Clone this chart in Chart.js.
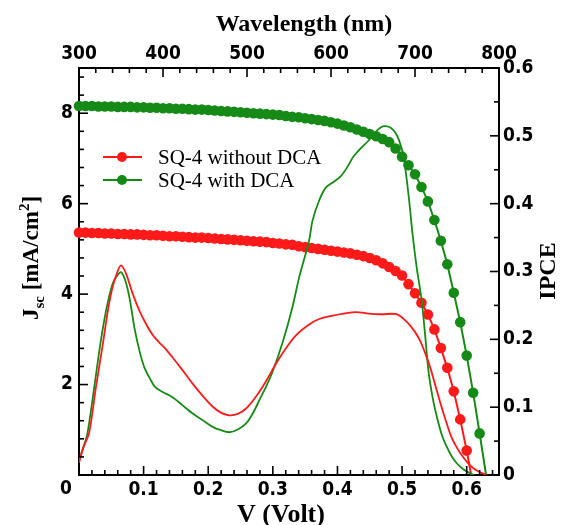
<!DOCTYPE html>
<html lang="en">
  <head>
    <meta charset="UTF-8" />
    <title>SQ-4 J-V and IPCE</title>
    <style>
      body { margin: 0; background: #fff; }
      canvas { display: block; }
    </style>
  </head>
  <body>
    <canvas id="jvChart" width="561" height="525"></canvas>
    <script src="https://cdn.jsdelivr.net/npm/chart.js"></script>
    <script>
      // J-V data (V in volts, Jsc in mA/cm2)
      const voltsNoDca = [
        0, 0.01, 0.02, 0.03, 0.04, 0.05, 0.06, 0.07, 0.08, 0.09,
        0.1, 0.11, 0.12, 0.13, 0.14, 0.15, 0.16, 0.17, 0.18, 0.19,
        0.2, 0.21, 0.22, 0.23, 0.24, 0.25, 0.26, 0.27, 0.28, 0.29,
        0.3, 0.31, 0.32, 0.33, 0.34, 0.35, 0.36, 0.37, 0.38, 0.39,
        0.4, 0.41, 0.42, 0.43, 0.44, 0.45, 0.46, 0.47, 0.48, 0.49,
        0.5, 0.51, 0.52, 0.53, 0.54, 0.55, 0.56, 0.57, 0.58, 0.59,
        0.6, 0.607
      ];
      const jscNoDca = [
        5.36, 5.36, 5.35, 5.35, 5.34, 5.34, 5.33, 5.33, 5.32, 5.32,
        5.31, 5.30, 5.30, 5.29, 5.28, 5.28, 5.27, 5.26, 5.25, 5.25,
        5.24, 5.23, 5.22, 5.21, 5.20, 5.19, 5.18, 5.17, 5.16, 5.15,
        5.13, 5.12, 5.10, 5.09, 5.06, 5.04, 5.02, 5.00, 4.98, 4.96,
        4.94, 4.92, 4.90, 4.87, 4.84, 4.80, 4.75, 4.68, 4.60, 4.51,
        4.41, 4.22, 4.02, 3.81, 3.55, 3.22, 2.81, 2.37, 1.85, 1.23,
        0.54, 0
      ];
      const voltsDca = [
        0, 0.01, 0.02, 0.03, 0.04, 0.05, 0.06, 0.07, 0.08, 0.09,
        0.1, 0.11, 0.12, 0.13, 0.14, 0.15, 0.16, 0.17, 0.18, 0.19,
        0.2, 0.21, 0.22, 0.23, 0.24, 0.25, 0.26, 0.27, 0.28, 0.29,
        0.3, 0.31, 0.32, 0.33, 0.34, 0.35, 0.36, 0.37, 0.38, 0.39,
        0.4, 0.41, 0.42, 0.43, 0.44, 0.45, 0.46, 0.47, 0.48, 0.49,
        0.5, 0.51, 0.52, 0.53, 0.54, 0.55, 0.56, 0.57, 0.58, 0.59,
        0.6, 0.61, 0.62, 0.63
      ];
      const jscDca = [
        8.16, 8.16, 8.16, 8.15, 8.15, 8.15, 8.14, 8.14, 8.14, 8.13,
        8.13, 8.12, 8.12, 8.11, 8.11, 8.10, 8.10, 8.09, 8.08, 8.08,
        8.07, 8.06, 8.05, 8.04, 8.03, 8.02, 8.01, 8.00, 7.99, 7.98,
        7.97, 7.96, 7.94, 7.92, 7.91, 7.89, 7.87, 7.85, 7.83, 7.80,
        7.77, 7.73, 7.69, 7.64, 7.59, 7.54, 7.49, 7.43, 7.36, 7.22,
        7.04, 6.85, 6.65, 6.37, 6.05, 5.64, 5.18, 4.66, 4.03, 3.38,
        2.64, 1.82, 0.92, 0
      ];

      // IPCE spectra (wavelength in nm, IPCE as fraction)
      const waveNoDca = [
        300, 305, 312, 320, 328, 335, 340, 345, 350, 356, 364, 372, 381,
        388, 395, 403, 411, 423, 435, 447, 459, 469, 479, 489, 499, 511,
        523, 535, 547, 560, 574, 586, 602, 615, 630, 645, 660, 678, 690,
        700, 706, 712, 718, 724, 730, 737, 743, 750, 757, 765, 773, 785
      ];
      const ipceNoDca = [
        0.018, 0.04, 0.062, 0.128, 0.19, 0.247, 0.277, 0.297, 0.309, 0.297,
        0.267, 0.242, 0.22, 0.206, 0.196, 0.186, 0.174, 0.155, 0.135,
        0.117, 0.101, 0.092, 0.088, 0.09, 0.098, 0.116, 0.139, 0.165,
        0.188, 0.208, 0.222, 0.23, 0.235, 0.238, 0.24, 0.238, 0.237, 0.237,
        0.226, 0.211, 0.198, 0.18, 0.159, 0.133, 0.107, 0.079, 0.057, 0.04,
        0.027, 0.015, 0.007, 0
      ];
      const waveDca = [
        300, 305, 310, 318, 326, 333, 340, 345, 350, 355, 360, 366, 372,
        378, 385, 391, 400, 411, 423, 435, 447, 459, 469, 479, 489, 499,
        507, 515, 523, 531, 543, 554, 562, 568, 574, 578, 586, 594, 603,
        612, 620, 626, 635, 644, 652, 660, 667, 672, 678, 684, 688, 693,
        697, 702, 708, 712, 716, 721, 726, 732, 738, 744, 750, 756, 762, 770
      ];
      const ipceDca = [
        0.022, 0.04, 0.061, 0.128, 0.198, 0.247, 0.282, 0.293, 0.299, 0.287,
        0.262, 0.217, 0.183, 0.158, 0.141, 0.129, 0.122, 0.115, 0.103,
        0.091, 0.081, 0.071, 0.066, 0.063, 0.067, 0.076, 0.091, 0.111,
        0.131, 0.154, 0.198, 0.247, 0.291, 0.318, 0.346, 0.375, 0.405, 0.424,
        0.432, 0.441, 0.455, 0.468, 0.481, 0.492, 0.504, 0.513, 0.514, 0.511,
        0.502, 0.482, 0.456, 0.405, 0.356, 0.306, 0.257, 0.207, 0.154, 0.114,
        0.086, 0.059, 0.041, 0.027, 0.017, 0.01, 0.005, 0
      ];

      const seriesNames = ["SQ-4 without DCA", "SQ-4 with DCA"];
      const RED = "#ff1a1a";
      const GREEN = "#168a16";

      const tickFont = {
        family: '"DejaVu Sans Condensed", "Liberation Sans Narrow", "Liberation Sans", sans-serif',
        size: 19,
        weight: "bold",
      };
      const serif = '"Liberation Serif", "DejaVu Serif", serif';

      function pairs(xs, ys) {
        return xs.map((x, i) => ({ x: x, y: ys[i] }));
      }
      function isMultiple(v, step) {
        return Math.abs(v / step - Math.round(v / step)) < 1e-6;
      }
      function majorLabel(step, skipZero) {
        return (v) => {
          if (!isMultiple(v, step) || (skipZero && Math.abs(v) < 1e-9)) return "";
          return String(Number(v.toFixed(4)));
        };
      }
      function axis(position, min, max, step, major, fit, padding, skipZero) {
        return {
          type: "linear",
          position: position,
          min: min,
          max: max,
          grid: { display: false, drawTicks: false },
          border: { display: true, color: "#000", width: 2 },
          ticks: {
            stepSize: step,
            includeBounds: false,
            autoSkip: false,
            maxRotation: 0,
            padding: padding,
            color: "#000",
            font: tickFont,
            callback: majorLabel(major, skipZero),
          },
          afterFit: fit,
        };
      }

      // ticks point into the plot, titles need sub/superscripts
      const frameExtras = {
        id: "frameExtras",
        afterDraw(chart) {
          const ctx = chart.ctx;
          const area = chart.chartArea;
          ctx.save();
          ctx.strokeStyle = "#000";
          ctx.lineWidth = 1.6;
          const majors = { xV: 0.1, xW: 100, yJ: 2, yI: 0.1 };
          for (const id in majors) {
            const s = chart.scales[id];
            for (const t of s.ticks) {
              const len = isMultiple(t.value, majors[id]) ? 9 : 5;
              const p = s.getPixelForValue(t.value);
              ctx.beginPath();
              if (s.position === "bottom") {
                ctx.moveTo(p, area.bottom);
                ctx.lineTo(p, area.bottom - len);
              } else if (s.position === "top") {
                ctx.moveTo(p, area.top);
                ctx.lineTo(p, area.top + len);
              } else if (s.position === "left") {
                ctx.moveTo(area.left, p);
                ctx.lineTo(area.left + len, p);
              } else {
                ctx.moveTo(area.right, p);
                ctx.lineTo(area.right - len, p);
              }
              ctx.stroke();
            }
          }

          // shared origin label sits left of the corner
          ctx.fillStyle = "#000";
          ctx.font = tickFont.weight + " " + tickFont.size + "px " + tickFont.family;
          ctx.textAlign = "center";
          ctx.textBaseline = "middle";
          ctx.fillText("0", 66, 489);

          // axis titles
          ctx.font = "bold 24px " + serif;
          ctx.fillText("Wavelength (nm)", 304, 25);
          ctx.font = "bold 26px " + serif;
          ctx.fillText("V (Volt)", 281, 515);

          ctx.save();
          ctx.translate(549, 271);
          ctx.rotate(-Math.PI / 2);
          ctx.font = "bold 24px " + serif;
          ctx.fillText("IPCE", 0, 0);
          ctx.restore();

          const parts = [
            { t: "J", size: 23, dy: 0 },
            { t: "sc", size: 15, dy: 6 },
            { t: " [mA/cm", size: 23, dy: 0 },
            { t: "2", size: 15, dy: -9 },
            { t: "]", size: 23, dy: 0 },
          ];
          ctx.save();
          ctx.translate(30, 258);
          ctx.rotate(-Math.PI / 2);
          ctx.textAlign = "left";
          ctx.textBaseline = "alphabetic";
          let total = 0;
          for (const p of parts) {
            ctx.font = "bold " + p.size + "px " + serif;
            p.w = ctx.measureText(p.t).width;
            total += p.w;
          }
          let x = -total / 2;
          for (const p of parts) {
            ctx.font = "bold " + p.size + "px " + serif;
            ctx.fillText(p.t, x, 8 + p.dy);
            x += p.w;
          }
          ctx.restore();

          // legend
          const rows = [
            { name: seriesNames[0], color: RED, y: 157 },
            { name: seriesNames[1], color: GREEN, y: 180 },
          ];
          ctx.textAlign = "left";
          ctx.textBaseline = "middle";
          ctx.font = "21px " + serif;
          for (const r of rows) {
            ctx.strokeStyle = r.color;
            ctx.lineWidth = 2;
            ctx.beginPath();
            ctx.moveTo(103, r.y);
            ctx.lineTo(142, r.y);
            ctx.stroke();
            ctx.fillStyle = r.color;
            ctx.beginPath();
            ctx.arc(122, r.y, 5, 0, Math.PI * 2);
            ctx.fill();
            ctx.fillStyle = "#000";
            ctx.fillText(r.name, 158, r.y + 1);
          }
          ctx.restore();
        },
      };

      const dotRadius = (c) => (c.raw && c.raw.y === 0 ? 0 : 5.3);

      new Chart(document.getElementById("jvChart"), {
        type: "scatter",
        data: {
          datasets: [
            {
              label: seriesNames[0] + " IPCE",
              data: pairs(waveNoDca, ipceNoDca),
              xAxisID: "xW",
              yAxisID: "yI",
              showLine: true,
              borderColor: RED,
              borderWidth: 1.8,
              pointRadius: 0,
              tension: 0.3,
            },
            {
              label: seriesNames[1] + " IPCE",
              data: pairs(waveDca, ipceDca),
              xAxisID: "xW",
              yAxisID: "yI",
              showLine: true,
              borderColor: GREEN,
              borderWidth: 1.8,
              pointRadius: 0,
              tension: 0.3,
            },
            {
              label: seriesNames[0],
              data: pairs(voltsNoDca, jscNoDca),
              xAxisID: "xV",
              yAxisID: "yJ",
              showLine: true,
              borderColor: RED,
              backgroundColor: RED,
              borderWidth: 2,
              pointRadius: dotRadius,
              pointBorderWidth: 0,
              clip: false,
            },
            {
              label: seriesNames[1],
              data: pairs(voltsDca, jscDca),
              xAxisID: "xV",
              yAxisID: "yJ",
              showLine: true,
              borderColor: GREEN,
              backgroundColor: GREEN,
              borderWidth: 2,
              pointRadius: dotRadius,
              pointBorderWidth: 0,
              clip: false,
            },
          ],
        },
        options: {
          responsive: false,
          animation: false,
          layout: { padding: 0 },
          plugins: { legend: { display: false }, tooltip: { enabled: false } },
          scales: {
            xV: axis("bottom", 0, 0.65, 0.02, 0.1, (s) => { s.height = 50; }, 4, true),
            xW: axis("top", 300, 800, 20, 100, (s) => { s.height = 68; }, 3, false),
            yJ: axis("left", 0, 9, 0.4, 2, (s) => { s.width = 79; }, 6, true),
            yI: axis("right", 0, 0.6, 0.05, 0.1, (s) => { s.width = 62; }, 4, false),
          },
        },
        plugins: [frameExtras],
      });
    </script>
  </body>
</html>
